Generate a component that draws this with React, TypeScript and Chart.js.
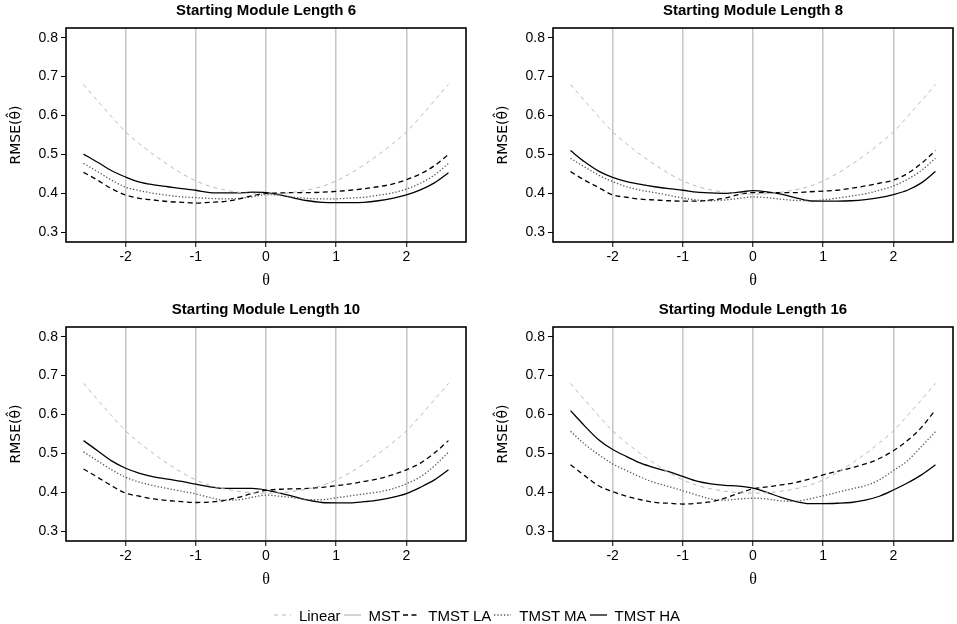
import { useEffect, useRef } from "react"
import { Chart, registerables } from "chart.js"

Chart.register(...registerables)

const SANS = "'Liberation Sans', Arial, sans-serif"
Chart.defaults.font.family = SANS
Chart.defaults.color = "#000"

// theta grid shared by every panel
const thetaGrid = [
  -2.6, -2.4, -2.2, -2.0, -1.8, -1.6, -1.4, -1.2, -1.0, -0.8, -0.6, -0.4, -0.2, 0,
  0.2, 0.4, 0.6, 0.8, 1.0, 1.2, 1.4, 1.6, 1.8, 2.0, 2.2, 2.4, 2.6,
]
const xTicks = [-2, -1, 0, 1, 2]
const yTicks = [0.3, 0.4, 0.5, 0.6, 0.7, 0.8]

// linear test, same in every panel
const linearRmse = [
  0.680, 0.638, 0.597, 0.558, 0.527, 0.499, 0.474, 0.451, 0.432, 0.418, 0.409, 0.403, 0.399, 0.398,
  0.399, 0.403, 0.409, 0.418, 0.432, 0.451, 0.474, 0.499, 0.527, 0.558, 0.597, 0.638, 0.680,
]

// starting module length 6
const la6 = [
  0.454, 0.434, 0.412, 0.396, 0.387, 0.383, 0.379, 0.377, 0.375, 0.377, 0.379, 0.385, 0.394, 0.400,
  0.401, 0.402, 0.402, 0.403, 0.405, 0.408, 0.412, 0.417, 0.424, 0.435, 0.450, 0.471, 0.500,
]
const ma6 = [
  0.477, 0.456, 0.434, 0.416, 0.407, 0.400, 0.395, 0.391, 0.389, 0.387, 0.386, 0.387, 0.391, 0.397,
  0.395, 0.390, 0.387, 0.386, 0.386, 0.388, 0.390, 0.395, 0.401, 0.411, 0.426, 0.447, 0.477,
]
const ha6 = [
  0.501, 0.480, 0.458, 0.442, 0.429, 0.422, 0.417, 0.412, 0.408, 0.402, 0.401, 0.401, 0.403, 0.402,
  0.396, 0.388, 0.381, 0.377, 0.376, 0.376, 0.377, 0.381, 0.387, 0.396, 0.409, 0.427, 0.453,
]

// starting module length 8
const la8 = [
  0.456, 0.434, 0.415, 0.396, 0.390, 0.385, 0.383, 0.381, 0.380, 0.380, 0.383, 0.388, 0.397, 0.402,
  0.402, 0.402, 0.402, 0.404, 0.406, 0.408, 0.413, 0.419, 0.426, 0.434, 0.451, 0.477, 0.510,
]
const ma8 = [
  0.490, 0.468, 0.447, 0.430, 0.417, 0.408, 0.402, 0.395, 0.388, 0.383, 0.381, 0.383, 0.387, 0.391,
  0.389, 0.385, 0.382, 0.381, 0.383, 0.388, 0.393, 0.399, 0.408, 0.419, 0.436, 0.459, 0.490,
]
const ha8 = [
  0.510, 0.481, 0.457, 0.441, 0.430, 0.423, 0.417, 0.412, 0.408, 0.403, 0.401, 0.400, 0.403, 0.407,
  0.404, 0.398, 0.389, 0.381, 0.380, 0.380, 0.381, 0.384, 0.389, 0.397, 0.408, 0.427, 0.456,
]

// starting module length 10
const la10 = [
  0.460, 0.439, 0.417, 0.398, 0.390, 0.383, 0.379, 0.376, 0.374, 0.375, 0.379, 0.387, 0.397, 0.405,
  0.408, 0.409, 0.410, 0.413, 0.417, 0.422, 0.428, 0.435, 0.445, 0.458, 0.475, 0.501, 0.533,
]
const ma10 = [
  0.504, 0.481, 0.458, 0.439, 0.426, 0.417, 0.410, 0.403, 0.396, 0.387, 0.380, 0.381, 0.387, 0.393,
  0.390, 0.386, 0.381, 0.381, 0.386, 0.391, 0.396, 0.401, 0.409, 0.422, 0.440, 0.468, 0.503,
]
const ha10 = [
  0.533, 0.507, 0.481, 0.462, 0.449, 0.440, 0.434, 0.428, 0.421, 0.414, 0.410, 0.410, 0.410, 0.406,
  0.398, 0.389, 0.380, 0.374, 0.373, 0.373, 0.376, 0.380, 0.387, 0.397, 0.413, 0.432, 0.458,
]

// starting module length 16
const la16 = [
  0.471, 0.443, 0.417, 0.402, 0.390, 0.381, 0.374, 0.372, 0.370, 0.372, 0.376, 0.385, 0.398, 0.409,
  0.414, 0.419, 0.425, 0.434, 0.445, 0.454, 0.463, 0.473, 0.487, 0.507, 0.533, 0.567, 0.612,
]
const ma16 = [
  0.557, 0.524, 0.497, 0.473, 0.456, 0.439, 0.425, 0.415, 0.404, 0.393, 0.383, 0.380, 0.383, 0.385,
  0.383, 0.378, 0.377, 0.383, 0.391, 0.400, 0.409, 0.417, 0.432, 0.456, 0.481, 0.518, 0.556,
]
const ha16 = [
  0.610, 0.571, 0.535, 0.510, 0.492, 0.475, 0.463, 0.453, 0.441, 0.429, 0.422, 0.418, 0.416, 0.411,
  0.400, 0.387, 0.377, 0.371, 0.371, 0.372, 0.374, 0.380, 0.390, 0.406, 0.424, 0.445, 0.471,
]

const legendLabels = ["Linear", "MST", "TMST LA", "TMST MA", "TMST HA"]

// line look for each legend entry
const styles: Record<string, { color: string; width: number; dash: number[] }> = {
  Linear: { color: "#b8b8b8", width: 1, dash: [4, 4] },
  MST: { color: "#b8b8b8", width: 1.2, dash: [] },
  "TMST LA": { color: "#000", width: 1.3, dash: [5, 3.5] },
  "TMST MA": { color: "#555", width: 1.3, dash: [1.3, 2] },
  "TMST HA": { color: "#000", width: 1.3, dash: [] },
}

const framePlugin = {
  id: "frame",
  afterDraw(chart: Chart) {
    const { ctx, chartArea: a } = chart
    ctx.save()
    ctx.strokeStyle = "#000"
    ctx.lineWidth = 1.6
    ctx.strokeRect(a.left, a.top, a.right - a.left, a.bottom - a.top)
    ctx.restore()
  },
}

const toPoints = (vals: number[]) => thetaGrid.map((x, i) => ({ x, y: vals[i] }))

function line(label: string, vals: number[]) {
  const s = styles[label]
  return {
    label,
    data: toPoints(vals),
    borderColor: s.color,
    borderWidth: s.width,
    borderDash: s.dash,
    pointRadius: 0,
    cubicInterpolationMode: "monotone" as const,
    fill: false,
  }
}

interface PanelProps {
  title: string
  la: number[]
  ma: number[]
  ha: number[]
  left: number
  top: number
  width: number
  padLeft: number
  padRight: number
}

function Panel({ title, la, ma, ha, left, top, width, padLeft, padRight }: PanelProps) {
  const canvasRef = useRef<HTMLCanvasElement | null>(null)

  useEffect(() => {
    if (!canvasRef.current) return
    const chart = new Chart(canvasRef.current, {
      type: "line",
      data: {
        datasets: [
          line("Linear", linearRmse),
          line("TMST LA", la),
          line("TMST MA", ma),
          line("TMST HA", ha),
        ],
      },
      options: {
        animation: false,
        responsive: true,
        maintainAspectRatio: false,
        layout: { padding: { left: padLeft, right: padRight, top: 0, bottom: 0 } },
        plugins: {
          legend: { display: false },
          tooltip: { enabled: false },
          title: {
            display: true,
            fullSize: false, // centre the title over the plot area
            text: title,
            color: "#000",
            font: { size: 15, weight: "bold", family: SANS },
            padding: { top: 2, bottom: 8 },
          },
        },
        scales: {
          x: {
            type: "linear",
            min: -2.85,
            max: 2.85,
            afterBuildTicks: (s: any) => {
              s.ticks = xTicks.map((value) => ({ value }))
            },
            afterFit: (s: any) => {
              s.height = 58
            },
            grid: { color: "#c6c6c6", lineWidth: 1.5, tickColor: "#000", tickWidth: 1, tickLength: 5 },
            border: { display: false },
            ticks: {
              color: "#000",
              font: { size: 14 },
              padding: 2,
              maxRotation: 0,
              callback: (v: any) => String(v),
            },
            title: {
              display: true,
              text: "θ",
              color: "#000",
              font: { size: 16, family: "'Liberation Serif', 'Times New Roman', serif" },
              padding: { top: 0, bottom: 10 },
            },
          },
          y: {
            min: 0.275,
            max: 0.825,
            afterBuildTicks: (s: any) => {
              s.ticks = yTicks.map((value) => ({ value }))
            },
            afterFit: (s: any) => {
              s.width = 66
            },
            grid: { drawOnChartArea: false, tickColor: "#000", tickWidth: 1, tickLength: 5 },
            border: { display: false },
            ticks: {
              color: "#000",
              font: { size: 14 },
              padding: 3,
              callback: (v: any) => Number(v).toFixed(1),
            },
            title: {
              display: true,
              text: "RMSE(θ̂)",
              color: "#000",
              font: { size: 14, family: "'DejaVu Sans', sans-serif" },
              padding: { top: 8, bottom: 0 },
            },
          },
        },
      },
      plugins: [framePlugin],
    })
    return () => chart.destroy()
  }, [title, la, ma, ha, padLeft, padRight])

  return (
    <div style={{ position: "absolute", left, top, width, height: 300 }}>
      <canvas ref={canvasRef} />
    </div>
  )
}

function LegendKey({ label }: { label: string }) {
  const s = styles[label]
  return (
    <svg width={17} height={10} style={{ marginRight: 8, display: "block" }}>
      <line
        x1={0}
        y1={5}
        x2={17}
        y2={5}
        stroke={s.color}
        strokeWidth={s.width}
        strokeDasharray={s.dash.length ? s.dash.join(" ") : undefined}
      />
    </svg>
  )
}

export default function App() {
  return (
    <div
      style={{
        position: "absolute",
        left: 0,
        top: 0,
        width: 957,
        height: 624,
        overflow: "hidden",
        background: "#fff",
        fontFamily: SANS,
      }}
    >
      <Panel title="Starting Module Length 6" la={la6} ma={ma6} ha={ha6} left={0} top={0} width={478} padLeft={0} padRight={12} />
      <Panel title="Starting Module Length 8" la={la8} ma={ma8} ha={ha8} left={480} top={0} width={477} padLeft={7} padRight={4} />
      <Panel title="Starting Module Length 10" la={la10} ma={ma10} ha={ha10} left={0} top={299} width={478} padLeft={0} padRight={12} />
      <Panel title="Starting Module Length 16" la={la16} ma={ma16} ha={ha16} left={480} top={299} width={477} padLeft={7} padRight={4} />
      <div
        style={{
          position: "absolute",
          left: 0,
          top: 606,
          width: 957,
          height: 18,
          display: "flex",
          justifyContent: "center",
          alignItems: "center",
          fontSize: 15,
          color: "#000",
        }}
      >
        {legendLabels.map((label) => (
          <div key={label} style={{ display: "flex", alignItems: "center", marginRight: 3 }}>
            <LegendKey label={label} />
            <span>{label}</span>
          </div>
        ))}
      </div>
    </div>
  )
}
